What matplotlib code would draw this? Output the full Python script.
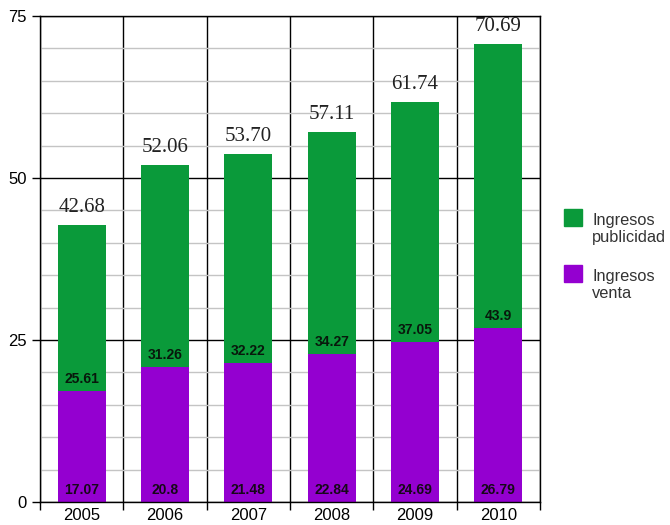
import matplotlib
matplotlib.use('Agg')
import matplotlib.pyplot as plt
import numpy as np

years = ['2005', '2006', '2007', '2008', '2009', '2010']
venta = [17.07, 20.8, 21.48, 22.84, 24.69, 26.79]
publicidad = [25.61, 31.26, 32.22, 34.27, 37.05, 43.9]
totales = ['42.68', '52.06', '53.70', '57.11', '61.74', '70.69']
leyenda = [['Ingresos', 'publicidad'], ['Ingresos', 'venta']]

verde = '#0a9a3a'
morado = '#9400d0'

plt.rcParams['font.family'] = ['Liberation Sans', 'DejaVu Sans']

W, H = 670, 525
fig = plt.figure(figsize=(W / 100, H / 100), dpi=100)
ax = fig.add_axes([40 / W, 23 / H, 500 / W, 486 / H])

x = np.arange(len(years))
ax.bar(x, venta, width=0.575, color=morado, zorder=3)
ax.bar(x, publicidad, width=0.575, bottom=venta, color=verde, zorder=3)

for i in range(len(years)):
    ax.text(x[i], 1.85, f'{venta[i]:g}', ha='center', va='center',
            fontsize=10, fontweight='bold', color='#160818', zorder=4)
    ax.text(x[i], venta[i] + 1.85, f'{publicidad[i]:g}', ha='center', va='center',
            fontsize=10, fontweight='bold', color='#08180c', zorder=4)
    ax.text(x[i], venta[i] + publicidad[i] + 2.0, totales[i], ha='center', va='baseline',
            fontsize=15, family='Liberation Serif', color='#222222', zorder=4)

ax.set_xlim(-0.5, len(years) - 0.5)
ax.set_ylim(0, 75)

ax.set_xticks(x)
ax.set_xticklabels(years, fontsize=12)
ax.set_xticks(np.arange(len(years) + 1) - 0.5, minor=True)
ax.tick_params(axis='x', which='major', length=0, pad=4.5)
ax.tick_params(axis='x', which='minor', length=5.8, width=1, color='black')

ax.set_yticks([0, 25, 50, 75])
ax.set_yticks(np.arange(0, 76, 5), minor=True)
ax.tick_params(axis='y', which='major', length=6, width=1, labelsize=12, pad=3.5)
ax.tick_params(axis='y', which='minor', length=0)

ax.grid(axis='y', which='minor', color='#c4c4c4', linewidth=1, zorder=1)
ax.grid(axis='y', which='major', color='black', linewidth=1, zorder=2)
ax.grid(axis='x', which='minor', color='black', linewidth=1, zorder=2)

for s in ax.spines.values():
    s.set_linewidth(1)
    s.set_zorder(5)

# leyenda dibujada a mano (posiciones en pixeles)
for k, (color, lineas) in enumerate(zip([verde, morado], leyenda)):
    top = 209 + k * 56
    fig.patches.append(plt.Rectangle((564 / W, 1 - (top + 17) / H), 18 / W, 17 / H,
                                     transform=fig.transFigure, color=color))
    for j, txt in enumerate(lineas):
        fig.text(592 / W, 1 - (top + 16 + j * 17) / H, txt, fontsize=11.8,
                 va='baseline', ha='left', color='#333333')

fig.savefig('out.png', dpi=100)
